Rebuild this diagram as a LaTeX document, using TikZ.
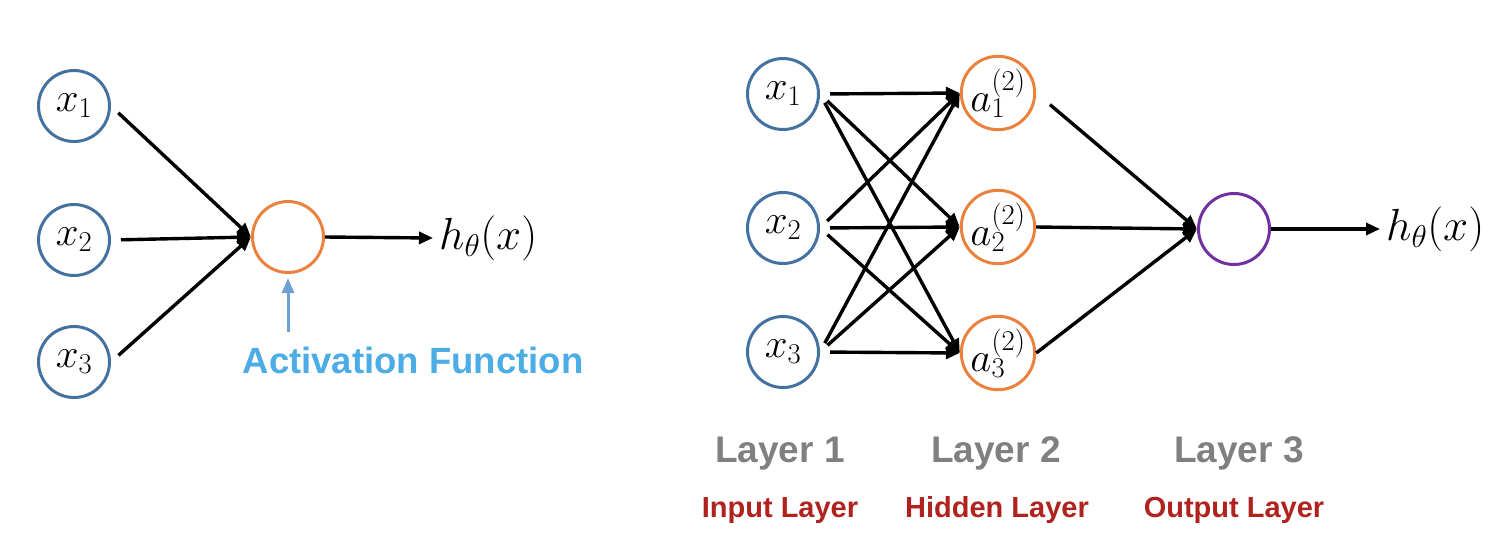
\RequirePackage{fix-cm}
\documentclass[tikz,border=0pt]{standalone}
\usepackage{fontspec}
\newfontfamily\labfont{Liberation Sans}
\usetikzlibrary{arrows.meta}
\definecolor{nblue}{RGB}{68,114,160}
\definecolor{norange}{RGB}{234,130,62}
\definecolor{npurple}{RGB}{112,48,160}
\definecolor{ablue}{RGB}{110,160,215}
\definecolor{tblue}{RGB}{75,172,230}
\definecolor{lgray}{RGB}{128,128,128}
\definecolor{lred}{RGB}{176,34,30}
\begin{document}
\begin{tikzpicture}[x=1pt,y=-1pt,
  neuron/.style={circle,minimum size=71pt,inner sep=0pt,line width=3pt,font=\fontsize{41}{44}\selectfont},
  inp/.style={neuron,draw=nblue},
  hid/.style={neuron,draw=norange},
  outn/.style={neuron,draw=npurple},
  conn/.style={line width=3.4pt,-{Triangle[length=14pt,width=12pt]}},
  actarrow/.style={line width=3pt,draw=ablue,-{Triangle[length=15pt,width=12pt]}},
  htext/.style={anchor=west,inner sep=6pt,font=\fontsize{45}{48}\selectfont},
  glabel/.style={anchor=base,inner sep=0pt,text=lgray,font=\labfont\bfseries\fontsize{37}{40}\selectfont},
  rlabel/.style={anchor=base,inner sep=0pt,text=lred,font=\labfont\bfseries\fontsize{29}{32}\selectfont},
  alabel/.style={anchor=base,inner sep=0pt,text=tblue,font=\labfont\bfseries\fontsize{36.5}{40}\selectfont}
]
\useasboundingbox (0,0) rectangle (1502,542);

% ---------- left: single neuron ----------
\node[inp] (lx1) at (74,106) {$x_1$};
\node[inp] (lx2) at (74,240) {$x_2$};
\node[inp] (lx3) at (74,362) {$x_3$};
\node[hid] (lo) at (288,237) {};
\node[htext] (lh) at (433,238) {$h_\theta(x)$};
\foreach \i in {1,2,3}{
  \draw[conn,shorten <=10pt] (lx\i.east) -- (lo.west);
}
\draw[conn] (lo.east) -- (lh.west);
\coordinate (atail) at (288,332);
\draw[actarrow,shorten >=4pt] (atail) -- (lo.south);
\node[alabel] (act) at (413,373) {Activation Function};

% ---------- right: network ----------
\node[inp] (rx1) at (783,94) {$x_1$};
\node[inp] (rx2) at (783,228) {$x_2$};
\node[inp] (rx3) at (783,352) {$x_3$};
\node[hid] (h1) at (998,93) {$a^{(2)}_1$};
\node[hid] (h2) at (998,227) {$a^{(2)}_2$};
\node[hid] (h3) at (998,353) {$a^{(2)}_3$};
\node[outn] (ro) at (1234,229) {};
\node[htext] (rh) at (1380,229) {$h_\theta(x)$};
\foreach \i in {1,2,3}{
  \foreach \j in {1,2,3}{
    \draw[conn,shorten <=10pt] (rx\i.east) -- (h\j.west);
  }
}
\draw[conn,shorten <=18pt] (h1.east) -- (ro.west);
\draw[conn] (h2.east) -- (ro.west);
\draw[conn] (h3.east) -- (ro.west);
\draw[conn] (ro.east) -- (rh.west);

\node[glabel] (g1) at (780,462) {Layer 1};
\node[glabel] (g2) at (996,462) {Layer 2};
\node[glabel] (g3) at (1239,462) {Layer 3};
\node[rlabel] (r1) at (780,517) {Input Layer};
\node[rlabel] (r2) at (997,517) {Hidden Layer};
\node[rlabel] (r3) at (1234,517) {Output Layer};
\end{tikzpicture}
\end{document}
